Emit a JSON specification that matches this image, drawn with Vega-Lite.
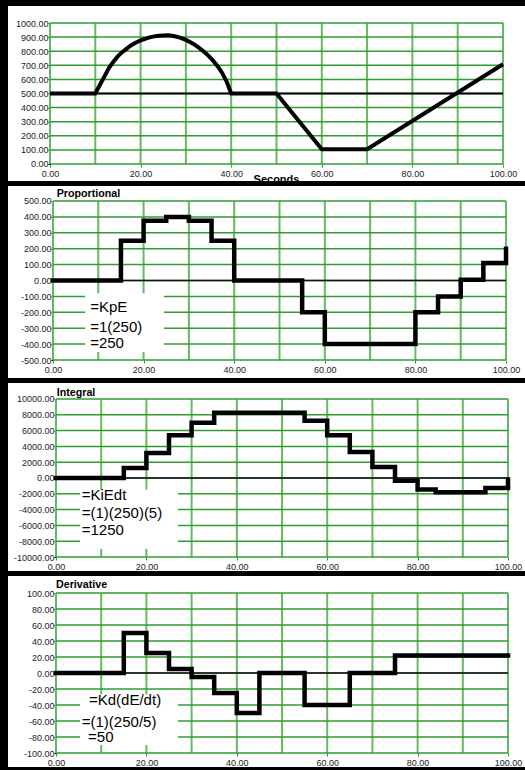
{
  "$schema": "https://vega.github.io/schema/vega-lite/v6.json",
  "background": "black",
  "padding": {"left": 8, "top": 6, "right": 0, "bottom": 3},
  "spacing": 5,
  "bounds": "flush",
  "datasets": {
    "xg": [{"v":0},{"v":10},{"v":20},{"v":30},{"v":40},{"v":50},{"v":60},{"v":70},{"v":80},{"v":90},{"v":100}],
    "g1": [{"v":0},{"v":100},{"v":200},{"v":300},{"v":400},{"v":500},{"v":600},{"v":700},{"v":800},{"v":900},{"v":1000}],
    "g2": [{"v":-500},{"v":-400},{"v":-300},{"v":-200},{"v":-100},{"v":0},{"v":100},{"v":200},{"v":300},{"v":400},{"v":500}],
    "g3": [{"v":-10000},{"v":-8000},{"v":-6000},{"v":-4000},{"v":-2000},{"v":0},{"v":2000},{"v":4000},{"v":6000},{"v":8000},{"v":10000}],
    "g4": [{"v":-100},{"v":-80},{"v":-60},{"v":-40},{"v":-20},{"v":0},{"v":20},{"v":40},{"v":60},{"v":80},{"v":100}],
    "pv": [{"x":0,"y":500},{"x":10,"y":500},{"x":11,"y":560},{"x":12,"y":620},{"x":13,"y":680},{"x":14,"y":725},{"x":15,"y":765},{"x":16,"y":795},{"x":17,"y":820},{"x":18,"y":845},{"x":19,"y":862},{"x":20,"y":877},{"x":21,"y":888},{"x":22,"y":898},{"x":23,"y":905},{"x":24,"y":910},{"x":25,"y":912},{"x":26,"y":913},{"x":27,"y":910},{"x":28,"y":903},{"x":29,"y":893},{"x":30,"y":880},{"x":31,"y":864},{"x":32,"y":845},{"x":33,"y":822},{"x":34,"y":796},{"x":35,"y":767},{"x":36,"y":733},{"x":37,"y":694},{"x":38,"y":646},{"x":39,"y":585},{"x":40,"y":500},{"x":50,"y":500},{"x":60,"y":105},{"x":70,"y":105},{"x":100,"y":707}],
    "prop": [{"x":0,"y":0},{"x":15,"y":250},{"x":20,"y":375},{"x":25,"y":400},{"x":30,"y":375},{"x":35,"y":250},{"x":40,"y":0},{"x":55,"y":-200},{"x":60,"y":-400},{"x":80,"y":-200},{"x":85,"y":-100},{"x":90,"y":5},{"x":95,"y":110},{"x":100,"y":200}],
    "integ": [{"x":0,"y":0},{"x":15,"y":1250},{"x":20,"y":3150},{"x":25,"y":5400},{"x":30,"y":7000},{"x":35,"y":8250},{"x":55,"y":7250},{"x":60,"y":5400},{"x":65,"y":3300},{"x":70,"y":1400},{"x":75,"y":-350},{"x":80,"y":-1450},{"x":84,"y":-1800},{"x":95,"y":-1250},{"x":100,"y":-200}],
    "deriv": [{"x":0,"y":0},{"x":15,"y":50},{"x":20,"y":25},{"x":25,"y":5},{"x":30,"y":-5},{"x":35,"y":-25},{"x":40,"y":-50},{"x":45,"y":0},{"x":55,"y":-40},{"x":65,"y":0},{"x":75,"y":22},{"x":100,"y":22}]
  },
  "config": {
    "view": {"fill": "white", "stroke": null},
    "locale": {"number": {"decimal": ".", "thousands": ",", "grouping": [3], "currency": ["$", ""], "minus": "-"}},
    "axis": {"domain": false, "grid": false, "labelFont": "Liberation Sans", "labelFontSize": 9, "labelColor": "#1c1c1c", "labelOverlap": false, "labelFlush": false},
    "axisX": {"tickSize": 3, "tickColor": "#2a9a2a", "labelPadding": 2},
    "axisY": {"tickSize": 2, "tickColor": "#000000", "labelPadding": 0},
    "title": {"anchor": "start", "frame": "group", "font": "Liberation Sans", "fontSize": 10.7, "fontWeight": "bold", "color": "black", "baseline": "alphabetic"}
  },
  "vconcat": [
    {
      "width": 517, "height": 175,
      "layer": [
        {"data": {"name": "pv"}, "mark": {"type": "line", "color": "black", "strokeWidth": 0, "opacity": 0},
         "encoding": {
           "x": {"field": "x", "type": "quantitative", "scale": {"domain": [-9.27, 104.86], "nice": false, "zero": false},
                 "axis": {"orient": "bottom", "offset": -17, "values": [0,20,40,60,80,100], "tickCount": 30, "format": ".2f", "labelOverlap": false, "labelFlush": false, "title": "Seconds", "titleFont": "Liberation Sans", "titleFontSize": 11, "titleFontWeight": "bold", "titleColor": "black", "titleX": 268, "titleY": 18, "titleBaseline": "alphabetic", "titleAlign": "center"}},
           "y": {"field": "y", "type": "quantitative", "scale": {"domain": [-120.6, 1120.6], "nice": false, "zero": false},
                 "axis": {"orient": "left", "offset": -42, "values": [0,100,200,300,400,500,600,700,800,900,1000], "tickCount": 30, "format": ".2f", "labelOverlap": false, "labelFlush": false, "title": null}}
         }},
        {"data": {"name": "xg"}, "mark": {"type": "rule", "stroke": "#62bb62", "strokeWidth": 2},
         "encoding": {"x": {"field": "v", "type": "quantitative"}, "y": {"datum": 0, "type": "quantitative"}, "y2": {"datum": 1000}}},
        {"data": {"name": "g1"}, "mark": {"type": "rule", "stroke": "#2f9e2f", "strokeWidth": 1.5},
         "encoding": {"y": {"field": "v", "type": "quantitative"}, "x": {"datum": 0, "type": "quantitative"}, "x2": {"datum": 100}}},
        {"data": {"values": [{}]}, "mark": {"type": "rule", "stroke": "black", "strokeWidth": 2},
         "encoding": {"y": {"datum": 500, "type": "quantitative"}, "x": {"datum": 0, "type": "quantitative"}, "x2": {"datum": 100}}},
        {"data": {"name": "pv"}, "mark": {"type": "line", "color": "black", "strokeWidth": 4},
         "encoding": {"x": {"field": "x", "type": "quantitative"}, "y": {"field": "y", "type": "quantitative"}}}
      ]
    },
    {
      "width": 517, "height": 192,
      "title": {"text": "Proportional", "offset": -13.5, "dx": 48.7},
      "layer": [
        {"data": {"name": "prop"}, "mark": {"type": "line", "color": "black", "strokeWidth": 0, "opacity": 0},
         "encoding": {
           "x": {"field": "x", "type": "quantitative", "scale": {"domain": [-9.93, 104.19], "nice": false, "zero": false},
                 "axis": {"orient": "bottom", "offset": -18, "values": [0,20,40,60,80,100], "tickCount": 30, "format": ".2f", "labelOverlap": false, "labelFlush": false, "title": null}},
           "y": {"field": "y", "type": "quantitative", "scale": {"domain": [-613.2, 594.3], "nice": false, "zero": false},
                 "axis": {"orient": "left", "offset": -45, "values": [-500,-400,-300,-200,-100,0,100,200,300,400,500], "tickCount": 30, "format": ".2f", "labelOverlap": false, "labelFlush": false, "title": null}}
         }},
        {"data": {"name": "xg"}, "mark": {"type": "rule", "stroke": "#62bb62", "strokeWidth": 2},
         "encoding": {"x": {"field": "v", "type": "quantitative"}, "y": {"datum": -500, "type": "quantitative"}, "y2": {"datum": 500}}},
        {"data": {"name": "g2"}, "mark": {"type": "rule", "stroke": "#2f9e2f", "strokeWidth": 1.5},
         "encoding": {"y": {"field": "v", "type": "quantitative"}, "x": {"datum": 0, "type": "quantitative"}, "x2": {"datum": 100}}},
        {"data": {"values": [{}]}, "mark": {"type": "rule", "stroke": "#111111", "strokeWidth": 1.5},
         "encoding": {"y": {"datum": 0, "type": "quantitative"}, "x": {"datum": 0, "type": "quantitative"}, "x2": {"datum": 100}}},
        {"data": {"values": [{}]}, "mark": {"type": "rect", "fill": "white"},
         "encoding": {"x": {"datum": 7.1, "type": "quantitative"}, "x2": {"datum": 24.5}, "y": {"datum": -80, "type": "quantitative"}, "y2": {"datum": -450}}},
        {"data": {"name": "prop"}, "mark": {"type": "line", "color": "black", "strokeWidth": 4.5, "interpolate": "step-after", "strokeCap": "square"},
         "encoding": {"x": {"field": "x", "type": "quantitative"}, "y": {"field": "y", "type": "quantitative"}}},
        {"data": {"values": [{}]}, "mark": {"type": "text", "align": "left", "baseline": "alphabetic", "font": "Liberation Sans", "fontSize": 15, "color": "black", "text": "=KpE"},
         "encoding": {"x": {"datum": 8.2, "type": "quantitative"}, "y": {"datum": -195, "type": "quantitative"}}},
        {"data": {"values": [{}]}, "mark": {"type": "text", "align": "left", "baseline": "alphabetic", "font": "Liberation Sans", "fontSize": 15, "color": "black", "text": "=1(250)"},
         "encoding": {"x": {"datum": 8.2, "type": "quantitative"}, "y": {"datum": -321, "type": "quantitative"}}},
        {"data": {"values": [{}]}, "mark": {"type": "text", "align": "left", "baseline": "alphabetic", "font": "Liberation Sans", "fontSize": 15, "color": "black", "text": "=250"},
         "encoding": {"x": {"datum": 8.2, "type": "quantitative"}, "y": {"datum": -425, "type": "quantitative"}}}
      ]
    },
    {
      "width": 517, "height": 188,
      "title": {"text": "Integral", "offset": -15.5, "dx": 48.7},
      "layer": [
        {"data": {"name": "integ"}, "mark": {"type": "line", "color": "black", "strokeWidth": 0, "opacity": 0},
         "encoding": {
           "x": {"field": "x", "type": "quantitative", "scale": {"domain": [-10.62, 103.76], "nice": false, "zero": false},
                 "axis": {"orient": "bottom", "offset": -14, "values": [0,20,40,60,80,100], "tickCount": 30, "format": ".2f", "labelOverlap": false, "labelFlush": false, "title": null}},
           "y": {"field": "y", "type": "quantitative", "scale": {"domain": [-11772, 12025], "nice": false, "zero": false},
                 "axis": {"orient": "left", "offset": -48, "values": [-10000,-8000,-6000,-4000,-2000,0,2000,4000,6000,8000,10000], "tickCount": 30, "format": ".2f", "labelOverlap": false, "labelFlush": false, "title": null}}
         }},
        {"data": {"name": "xg"}, "mark": {"type": "rule", "stroke": "#62bb62", "strokeWidth": 2},
         "encoding": {"x": {"field": "v", "type": "quantitative"}, "y": {"datum": -10000, "type": "quantitative"}, "y2": {"datum": 10000}}},
        {"data": {"name": "g3"}, "mark": {"type": "rule", "stroke": "#2f9e2f", "strokeWidth": 1.5},
         "encoding": {"y": {"field": "v", "type": "quantitative"}, "x": {"datum": 0, "type": "quantitative"}, "x2": {"datum": 100}}},
        {"data": {"values": [{}]}, "mark": {"type": "rule", "stroke": "#111111", "strokeWidth": 1.5},
         "encoding": {"y": {"datum": 0, "type": "quantitative"}, "x": {"datum": 0, "type": "quantitative"}, "x2": {"datum": 100}}},
        {"data": {"values": [{}]}, "mark": {"type": "rect", "fill": "white"},
         "encoding": {"x": {"datum": 5.3, "type": "quantitative"}, "x2": {"datum": 27}, "y": {"datum": -1500, "type": "quantitative"}, "y2": {"datum": -9000}}},
        {"data": {"name": "integ"}, "mark": {"type": "line", "color": "black", "strokeWidth": 4.5, "interpolate": "step-after", "strokeCap": "square"},
         "encoding": {"x": {"field": "x", "type": "quantitative"}, "y": {"field": "y", "type": "quantitative"}}},
        {"data": {"values": [{}]}, "mark": {"type": "text", "align": "left", "baseline": "alphabetic", "font": "Liberation Sans", "fontSize": 15, "color": "black", "text": "=KiEdt"},
         "encoding": {"x": {"datum": 5.7, "type": "quantitative"}, "y": {"datum": -2823, "type": "quantitative"}}},
        {"data": {"values": [{}]}, "mark": {"type": "text", "align": "left", "baseline": "alphabetic", "font": "Liberation Sans", "fontSize": 15, "color": "black", "text": "=(1)(250)(5)"},
         "encoding": {"x": {"datum": 5.7, "type": "quantitative"}, "y": {"datum": -5063, "type": "quantitative"}}},
        {"data": {"values": [{}]}, "mark": {"type": "text", "align": "left", "baseline": "alphabetic", "font": "Liberation Sans", "fontSize": 15, "color": "black", "text": "=1250"},
         "encoding": {"x": {"datum": 5.7, "type": "quantitative"}, "y": {"datum": -7253, "type": "quantitative"}}}
      ]
    },
    {
      "width": 517, "height": 191,
      "title": {"text": "Derivative", "offset": -14.2, "dx": 48},
      "layer": [
        {"data": {"name": "deriv"}, "mark": {"type": "line", "color": "black", "strokeWidth": 0, "opacity": 0},
         "encoding": {
           "x": {"field": "x", "type": "quantitative", "scale": {"domain": [-10.62, 103.76], "nice": false, "zero": false},
                 "axis": {"orient": "bottom", "offset": -14, "values": [0,20,40,60,80,100], "tickCount": 30, "format": ".2f", "labelOverlap": false, "labelFlush": false, "title": null}},
           "y": {"field": "y", "type": "quantitative", "scale": {"domain": [-117.5, 121.25], "nice": false, "zero": false},
                 "axis": {"orient": "left", "offset": -48, "values": [-100,-80,-60,-40,-20,0,20,40,60,80,100], "tickCount": 30, "format": ".2f", "labelOverlap": false, "labelFlush": false, "title": null}}
         }},
        {"data": {"name": "xg"}, "mark": {"type": "rule", "stroke": "#62bb62", "strokeWidth": 2},
         "encoding": {"x": {"field": "v", "type": "quantitative"}, "y": {"datum": -100, "type": "quantitative"}, "y2": {"datum": 100}}},
        {"data": {"name": "g4"}, "mark": {"type": "rule", "stroke": "#2f9e2f", "strokeWidth": 1.5},
         "encoding": {"y": {"field": "v", "type": "quantitative"}, "x": {"datum": 0, "type": "quantitative"}, "x2": {"datum": 100}}},
        {"data": {"values": [{}]}, "mark": {"type": "rule", "stroke": "#111111", "strokeWidth": 1.5},
         "encoding": {"y": {"datum": 0, "type": "quantitative"}, "x": {"datum": 0, "type": "quantitative"}, "x2": {"datum": 100}}},
        {"data": {"values": [{}]}, "mark": {"type": "rect", "fill": "white"},
         "encoding": {"x": {"datum": 5.3, "type": "quantitative"}, "x2": {"datum": 27}, "y": {"datum": -27, "type": "quantitative"}, "y2": {"datum": -90}}},
        {"data": {"name": "deriv"}, "mark": {"type": "line", "color": "black", "strokeWidth": 4.5, "interpolate": "step-after", "strokeCap": "square"},
         "encoding": {"x": {"field": "x", "type": "quantitative"}, "y": {"field": "y", "type": "quantitative"}}},
        {"data": {"values": [{}]}, "mark": {"type": "text", "align": "left", "baseline": "alphabetic", "font": "Liberation Sans", "fontSize": 15, "color": "black", "text": "=Kd(dE/dt)"},
         "encoding": {"x": {"datum": 7.3, "type": "quantitative"}, "y": {"datum": -40.4, "type": "quantitative"}}},
        {"data": {"values": [{}]}, "mark": {"type": "text", "align": "left", "baseline": "alphabetic", "font": "Liberation Sans", "fontSize": 15, "color": "black", "text": "=(1)(250/5)"},
         "encoding": {"x": {"datum": 5.7, "type": "quantitative"}, "y": {"datum": -67.5, "type": "quantitative"}}},
        {"data": {"values": [{}]}, "mark": {"type": "text", "align": "left", "baseline": "alphabetic", "font": "Liberation Sans", "fontSize": 15, "color": "black", "text": "=50"},
         "encoding": {"x": {"datum": 7.1, "type": "quantitative"}, "y": {"datum": -86, "type": "quantitative"}}}
      ]
    }
  ]
}
